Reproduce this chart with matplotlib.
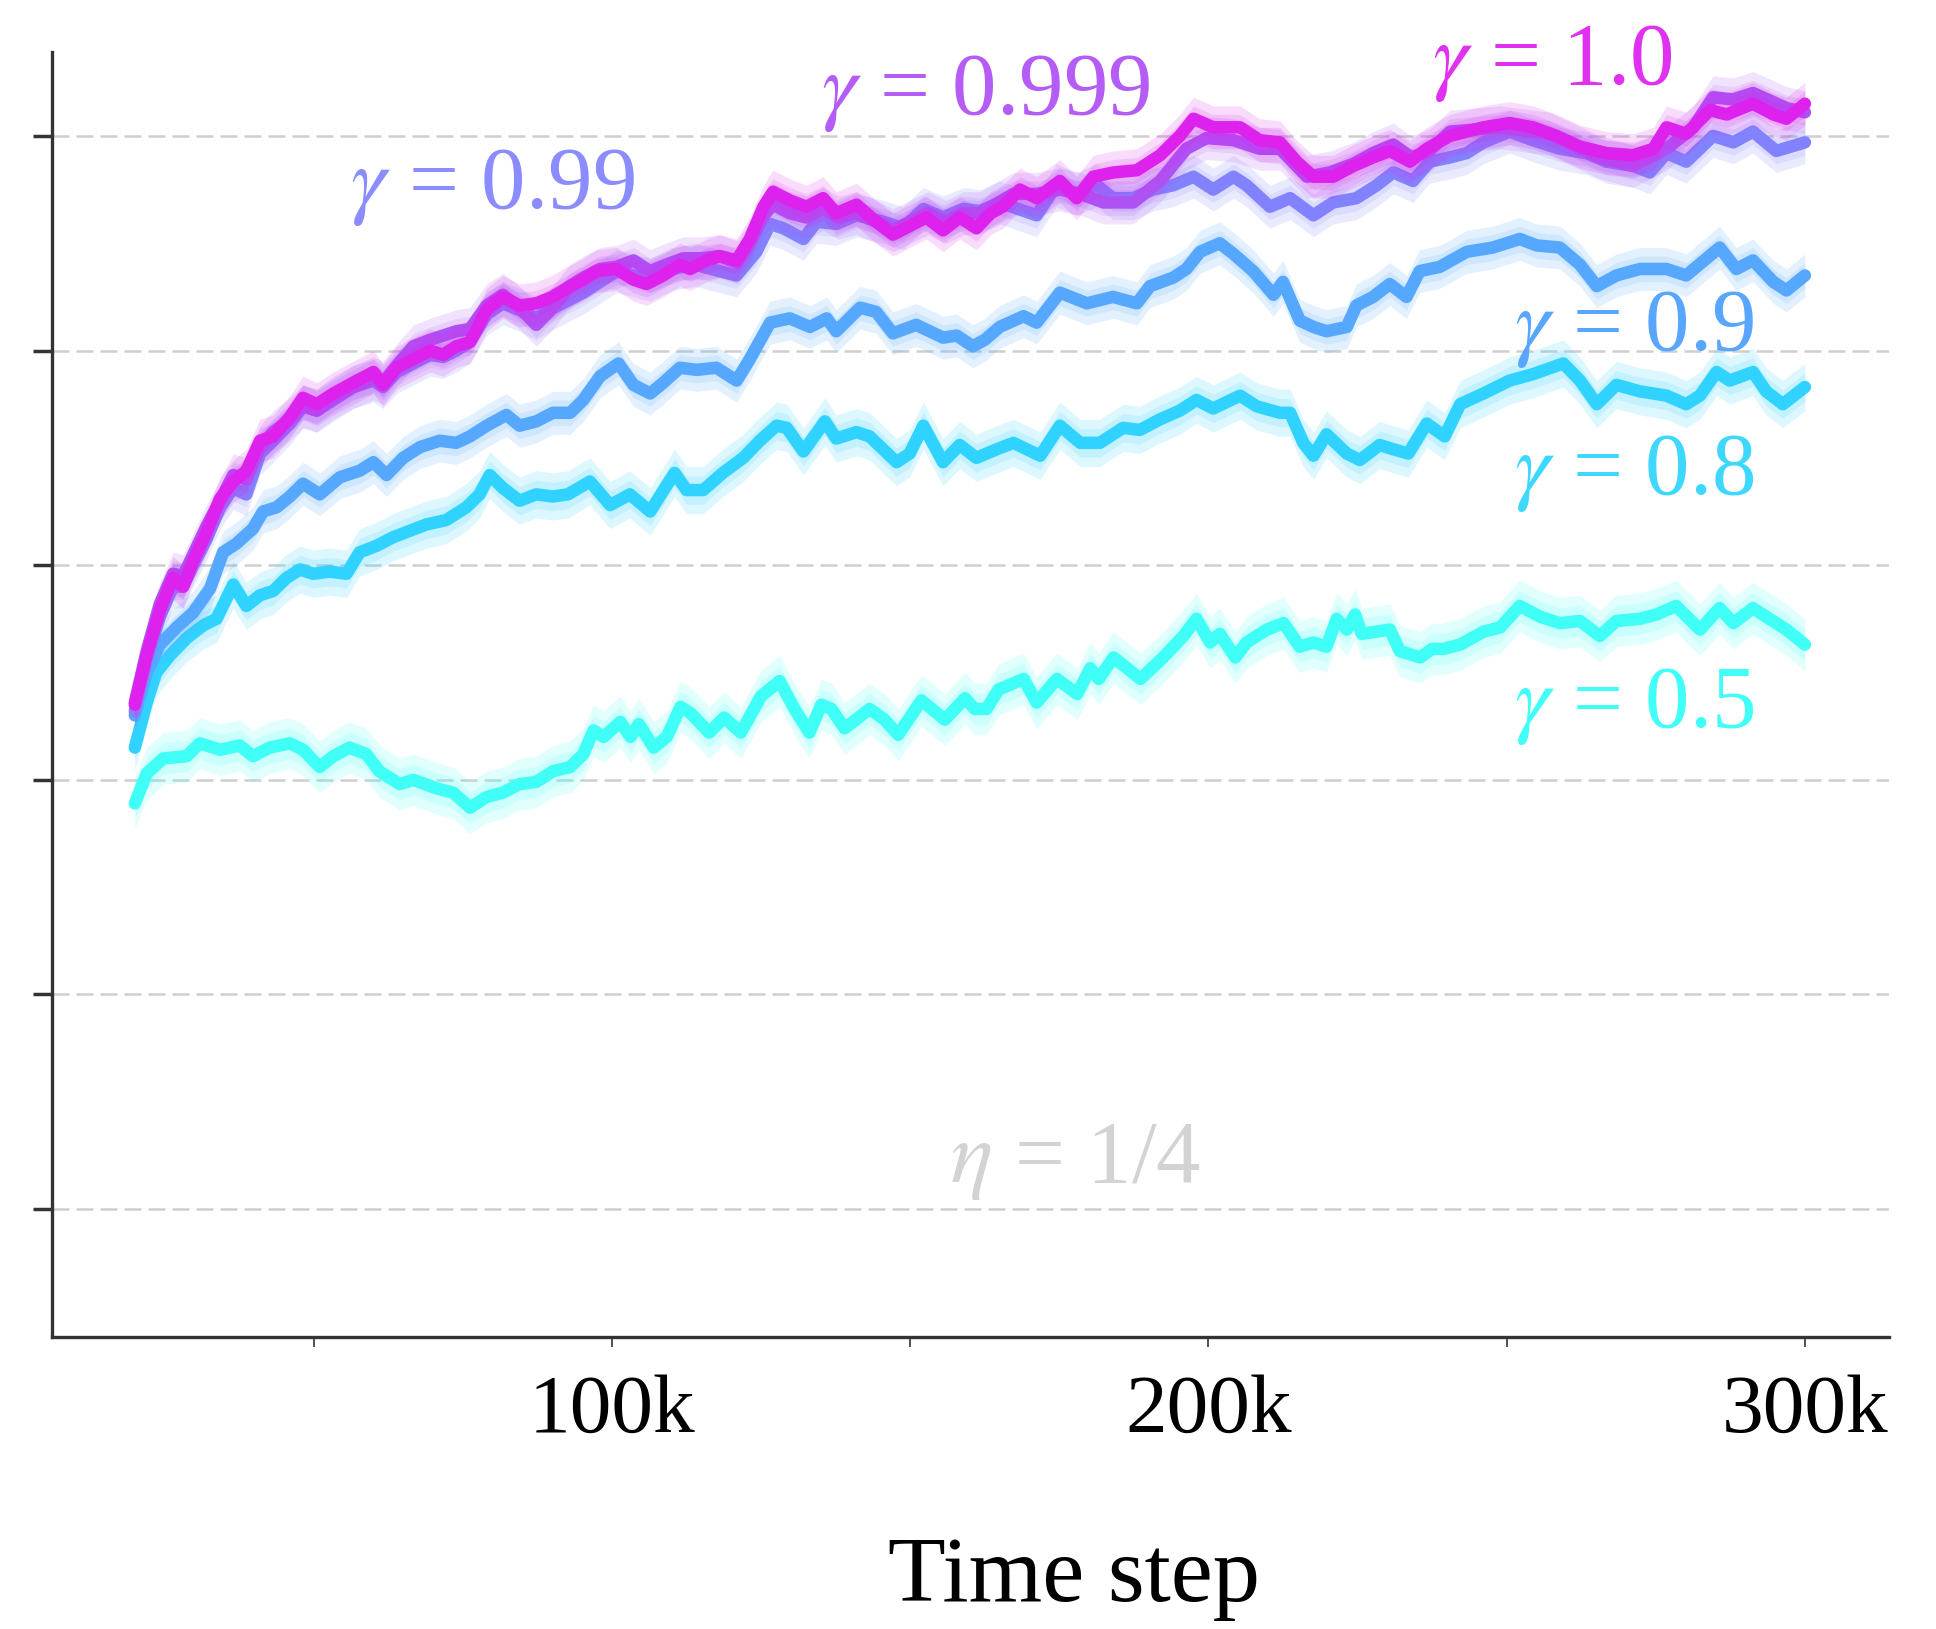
import numpy as np
import matplotlib
matplotlib.use("Agg")
import matplotlib.pyplot as plt

plt.rcParams['font.family'] = ['Liberation Serif', 'DejaVu Serif']
plt.rcParams['mathtext.fontset'] = 'stix'

# Learning curves: (time step in thousands, mean return in grid units)
G05 = [(20,1.89),(22,2.03),(24.8,2.10),(28.7,2.11),(30.9,2.17),(34.3,2.14),(37.6,2.16),(39.8,2.11),(42.6,2.15),(46,2.17),(48.2,2.14),(51,2.06),(53.3,2.11),(56,2.15),(58.8,2.12),(61,2.04),(64.4,1.98),(66.7,2.00),(70.6,1.96),(73.4,1.94),(76.2,1.87),(79,1.92),(81.7,1.94),(84.5,1.98),(87.3,1.99),(90.1,2.04),(93,2.06),(95.2,2.12),(96.9,2.23),(98.6,2.20),(101.4,2.27),(103.1,2.20),(104.5,2.26),(107,2.15),(109.2,2.20),(111.5,2.34),(113.2,2.31),(116.3,2.22),(118.8,2.29),(121.6,2.22),(125,2.39),(128.1,2.46),(130.6,2.33),(133.1,2.22),(135.1,2.35),(136.8,2.33),(139,2.24),(143.2,2.33),(145.7,2.28),(148,2.21),(151.9,2.37),(155.8,2.28),(159.2,2.38),(160.8,2.33),(162.8,2.33),(164.8,2.42),(169,2.47),(171.2,2.36),(174.6,2.47),(178,2.40),(180.2,2.52),(181.6,2.47),(184.1,2.57),(188.6,2.47),(192.4,2.57),(195.8,2.67),(198,2.75),(200.3,2.64),(201.9,2.68),(204.5,2.57),(206.4,2.64),(209.8,2.70),(212.6,2.73),(215.3,2.62),(217.6,2.64),(219.8,2.62),(221.5,2.75),(223.2,2.70),(224.6,2.77),(225.7,2.68),(230.4,2.70),(232.1,2.60),(235.5,2.57),(237.5,2.61),(239.4,2.61),(242.2,2.63),(246.1,2.69),(248.9,2.71),(252.2,2.81),(255.6,2.76),(258.9,2.73),(262.3,2.74),(265.6,2.67),(268.4,2.74),(272.3,2.75),(275.1,2.77),(278.4,2.81),(282.4,2.70),(285.7,2.80),(288,2.73),(291.3,2.80),(293.5,2.76),(296.9,2.70),(300,2.63)]

G08 = [(20,2.15),(22,2.36),(23.6,2.50),(25.9,2.58),(28.7,2.66),(31.5,2.72),(33.7,2.75),(36.5,2.91),(38.7,2.81),(41,2.86),(43.2,2.88),(45.4,2.94),(47.7,2.98),(49.9,2.96),(52.7,2.97),(55.5,2.96),(57.7,3.06),(60.5,3.09),(63.3,3.13),(66.1,3.16),(68.9,3.19),(72.2,3.21),(75.6,3.27),(77.8,3.33),(79.5,3.42),(81.7,3.36),(84.5,3.30),(87.3,3.33),(90.1,3.32),(92.6,3.33),(96.3,3.39),(99.7,3.28),(103,3.33),(106.4,3.25),(110.5,3.43),(112.5,3.35),(115.3,3.35),(118.6,3.43),(122,3.50),(124.8,3.58),(127.6,3.65),(129.3,3.64),(132.1,3.53),(135.7,3.67),(137.6,3.59),(141,3.62),(143.2,3.60),(147.7,3.48),(149.9,3.52),(152.2,3.65),(155.5,3.48),(158.3,3.56),(161.1,3.50),(164.5,3.54),(167.3,3.57),(171.8,3.51),(175.1,3.65),(178.5,3.57),(181.8,3.57),(185.7,3.64),(188.5,3.63),(191.9,3.68),(195.2,3.72),(198,3.77),(200.8,3.73),(205.3,3.79),(208.1,3.74),(212,3.71),(213.7,3.71),(215.9,3.57),(217.6,3.51),(219.8,3.61),(223.2,3.52),(225.4,3.49),(228.7,3.56),(231,3.54),(233.5,3.52),(236.6,3.66),(239.6,3.60),(242.2,3.75),(246.1,3.80),(250.5,3.86),(254.4,3.89),(259.5,3.94),(262.3,3.86),(265.1,3.75),(268.4,3.84),(272.3,3.81),(276.8,3.79),(280.1,3.75),(282.4,3.79),(285.2,3.90),(287.4,3.86),(291.3,3.90),(293.5,3.81),(296.3,3.75),(300,3.83)]

G09 = [(20,2.30),(22,2.50),(24.2,2.63),(27,2.71),(29.8,2.78),(32.6,2.89),(34.8,3.06),(37,3.10),(39.8,3.17),(41.5,3.25),(43.8,3.27),(46,3.32),(48.2,3.38),(51,3.33),(54.4,3.41),(57.7,3.44),(60,3.48),(62.2,3.42),(65,3.50),(67.8,3.55),(71.1,3.58),(73.9,3.57),(76.2,3.60),(79,3.65),(82.3,3.70),(84.5,3.65),(87.3,3.67),(90.1,3.71),(93,3.71),(95.2,3.77),(98,3.88),(101.1,3.94),(103.6,3.84),(106.4,3.80),(108.6,3.85),(111.4,3.92),(114.2,3.91),(117.5,3.92),(120.9,3.86),(123.1,3.96),(126.5,4.13),(129.8,4.15),(133.2,4.11),(136,4.15),(137.6,4.09),(141.6,4.20),(144.3,4.18),(147.1,4.08),(151,4.12),(155.5,4.06),(157.8,4.07),(160.5,4.02),(162.5,4.05),(165,4.11),(169,4.16),(171.2,4.13),(175.1,4.27),(179.6,4.22),(184,4.25),(188,4.22),(190.2,4.30),(194.1,4.34),(196.3,4.38),(198.6,4.46),(201.9,4.50),(204.2,4.45),(207.5,4.37),(210.9,4.26),(212.5,4.32),(215.3,4.14),(217.6,4.11),(219.8,4.09),(223.2,4.11),(224.8,4.21),(227.6,4.25),(230.4,4.31),(233.2,4.25),(235.4,4.37),(238.8,4.39),(243.3,4.46),(247.7,4.48),(252.2,4.52),(255,4.49),(258.9,4.48),(262.3,4.40),(265.1,4.30),(268.4,4.35),(272.3,4.38),(276.8,4.38),(280.1,4.35),(285.7,4.48),(288.5,4.38),(291.3,4.42),(294.7,4.32),(296.9,4.28),(300,4.35)]

G099 = [(20,2.32),(22,2.56),(24.2,2.76),(26.4,2.90),(28.1,2.90),(29.8,3.00),(32,3.12),(34.3,3.27),(36.5,3.36),(38.7,3.33),(41,3.52),(43.2,3.58),(46,3.66),(48.2,3.74),(50.5,3.72),(53.3,3.77),(56.6,3.83),(60,3.86),(61.6,3.83),(63.9,3.90),(66.7,3.94),(69.5,3.98),(71.7,3.97),(73.9,4.00),(76.2,4.04),(79,4.17),(81.7,4.22),(84.5,4.19),(87.3,4.15),(89.6,4.19),(95.2,4.27),(100.8,4.37),(106.4,4.33),(110,4.38),(114,4.40),(118,4.37),(120.9,4.35),(124.2,4.46),(126.5,4.59),(128.7,4.57),(132.1,4.52),(134.3,4.60),(137.6,4.59),(141,4.63),(145.5,4.60),(148.8,4.57),(152.2,4.66),(155.5,4.62),(158.9,4.66),(161.7,4.65),(165,4.69),(171.2,4.63),(174.5,4.77),(177.9,4.73),(181.3,4.77),(184,4.71),(187.4,4.71),(190.7,4.75),(194.1,4.77),(197.5,4.81),(200.8,4.75),(204.2,4.81),(206.4,4.77),(210.3,4.67),(213.7,4.71),(217.6,4.63),(220.9,4.69),(224.8,4.71),(228.2,4.77),(231,4.83),(234.3,4.79),(237.1,4.88),(240.5,4.90),(243.3,4.92),(246.1,4.97),(250.5,5.02),(254.4,4.98),(258.9,4.94),(263.4,4.92),(266.7,4.88),(271.2,4.86),(274,4.83),(276.8,4.92),(280.1,4.88),(284.6,5.00),(288,4.97),(291.3,5.02),(295.2,4.93),(300,4.97)]

G0999 = [(20,2.36),(22,2.60),(24.2,2.82),(26.4,2.96),(28.1,2.95),(29.8,3.05),(32,3.18),(34.3,3.30),(36.5,3.42),(38.7,3.40),(41,3.55),(43.2,3.62),(46,3.68),(48.2,3.74),(50.5,3.72),(53.3,3.78),(56.6,3.83),(60,3.87),(61.6,3.85),(63.9,3.93),(66.7,4.02),(69.5,4.05),(71.7,4.07),(73.9,4.09),(76.2,4.10),(79,4.21),(81.7,4.26),(84.5,4.20),(87.3,4.12),(90.1,4.20),(92.9,4.30),(95.2,4.34),(98,4.38),(100.8,4.39),(103.6,4.42),(106.4,4.37),(109,4.40),(112,4.43),(115,4.43),(118,4.44),(121,4.41),(123.1,4.50),(125.4,4.63),(127,4.68),(129.8,4.64),(132.6,4.62),(135.4,4.66),(138,4.62),(141,4.64),(144.3,4.60),(147.1,4.56),(150,4.60),(153,4.64),(156,4.60),(159,4.64),(161.7,4.64),(167.3,4.73),(171.2,4.73),(175.1,4.75),(178.5,4.73),(182.4,4.69),(187.4,4.69),(191.9,4.79),(196.3,4.94),(199.7,4.99),(204.2,4.98),(208.6,4.94),(212,4.94),(216.5,4.81),(220.4,4.83),(224.3,4.87),(227.6,4.92),(231,4.96),(234,4.90),(237,4.93),(240.5,5.02),(248.9,5.04),(257.2,5.01),(265.6,4.90),(271.2,4.86),(276.8,4.94),(281.3,5.04),(284.6,5.18),(288,5.17),(291.3,5.20),(296.9,5.13),(300,5.11)]

G10 = [(20,2.35),(22,2.58),(24.2,2.79),(26.4,2.94),(28.1,2.90),(29.8,3.02),(32,3.15),(34.3,3.31),(36.5,3.39),(38.7,3.44),(41,3.58),(43.2,3.60),(46,3.69),(48.2,3.78),(50.5,3.75),(53.3,3.80),(56.6,3.85),(60,3.90),(61.6,3.84),(63.9,3.92),(66.7,3.96),(69.5,4.00),(71.7,3.98),(73.9,4.02),(76.2,4.04),(79,4.19),(81.7,4.25),(84.5,4.21),(87.3,4.22),(90,4.25),(92.4,4.29),(95.2,4.33),(97.4,4.37),(100.8,4.38),(103.6,4.33),(105.8,4.31),(108.6,4.35),(111.4,4.40),(113.1,4.38),(115.9,4.42),(118.1,4.44),(120.9,4.42),(123.1,4.52),(125.4,4.67),(127,4.74),(129.8,4.70),(132.6,4.67),(135.4,4.71),(137.6,4.64),(141,4.68),(144.3,4.60),(147.1,4.54),(149.9,4.58),(152.7,4.62),(155.5,4.56),(158.3,4.62),(161.1,4.57),(163.5,4.64),(165.5,4.67),(168.4,4.75),(171.2,4.71),(175.1,4.79),(177.9,4.71),(180.7,4.81),(184.1,4.83),(188,4.84),(191.9,4.91),(195.2,5.00),(197.5,5.08),(200.8,5.04),(205.3,5.04),(208.6,4.98),(212,4.97),(214.8,4.88),(217.6,4.81),(220.9,4.81),(224.3,4.86),(227.6,4.90),(230.4,4.93),(233.8,4.88),(236.6,4.94),(240.5,5.00),(246.1,5.04),(250.5,5.06),(254.4,5.04),(258.4,5.00),(262.3,4.95),(266.7,4.92),(271.2,4.91),(274.6,4.94),(276.8,5.04),(280.1,5.01),(284.1,5.12),(286.9,5.10),(291.3,5.15),(294.7,5.10),(296.9,5.08),(300,5.15)]

SERIES = [G05, G08, G09, G099, G0999, G10]
GAMMA_LABELS = ['0.5', '0.8', '0.9', '0.99', '0.999', '1.0']
LINE_COLORS = ['#3FFFF6', '#30D3FF', '#56A8FF', '#8282FF', '#AE52F4', '#DD22EE']
TEXT_COLORS = ['#40FFF8', '#3ED8FF', '#58A6FF', '#8A8CFF', '#B45CF5', '#E030F0']
BAND = [0.12, 0.11, 0.10, 0.10, 0.10, 0.10]
# label anchor (k steps, baseline value)
LABEL_POS = [(271.4, 2.244), (271.4, 3.331), (271.4, 4.003), (80.0, 4.666), (162.7, 5.104), (257.7, 5.242)]

XTICKS = [50, 100, 150, 200, 250, 300]
XTICKLABELS = ['', '100k', '', '200k', '', '300k']
YTICKS = [0, 1, 2, 3, 4, 5]

W, H = 1936, 1629
fig = plt.figure(figsize=(W / 100, H / 100), dpi=100)
ax = fig.add_axes([52 / W, 1 - 1337 / H, (1889 - 52) / W, (1337 - 52) / H])

ax.set_xlim(6.12, 314.1)
ax.set_ylim(-0.596, 5.391)

for yv in YTICKS:
    ax.axhline(yv, color='#CFCFCF', lw=1.8, ls=(0, (6.8, 2.8)), zorder=0)

for i, (pts, col, band) in enumerate(zip(SERIES, LINE_COLORS, BAND)):
    arr = np.array(pts, dtype=float)
    x, y = arr[:, 0], arr[:, 1]
    ax.fill_between(x, y - band, y + band, color=col, alpha=0.16, lw=0, zorder=2 + i)
    ax.fill_between(x, y - band * 0.6, y + band * 0.6, color=col, alpha=0.14, lw=0, zorder=2 + i)
    ax.plot(x, y, color=col, lw=9, solid_capstyle='round', solid_joinstyle='round', zorder=2.5 + i)

for lab, col, (lx, ly) in zip(GAMMA_LABELS, TEXT_COLORS, LABEL_POS):
    ax.text(lx, ly, r'$\gamma$ = ' + lab, color=col, fontsize=64,
            ha='center', va='baseline', zorder=20)

ax.text(177.7, 0.126, r'$\eta$ = 1/4', color='#D3D3D3', fontsize=64,
        ha='center', va='baseline', zorder=20)

for side in ('top', 'right'):
    ax.spines[side].set_visible(False)
for side in ('left', 'bottom'):
    ax.spines[side].set_color('#333333')
    ax.spines[side].set_linewidth(2.4)

ax.set_xticks(XTICKS)
ax.set_xticklabels(XTICKLABELS)
ax.set_yticks(YTICKS)
ax.set_yticklabels([])
ax.tick_params(axis='y', length=14, width=2.5, color='#333333', direction='out')
ax.tick_params(axis='x', length=7, width=1.2, color='#333333', direction='out',
               pad=20, labelsize=60)

ax.set_xlabel('Time step', fontsize=68)
ax.xaxis.label.set_va('baseline')
ax.xaxis.set_label_coords((1074 - 52) / (1889 - 52), (1337 - 1601) / (1337 - 52))

fig.savefig('out.png', dpi=100, facecolor='white')
